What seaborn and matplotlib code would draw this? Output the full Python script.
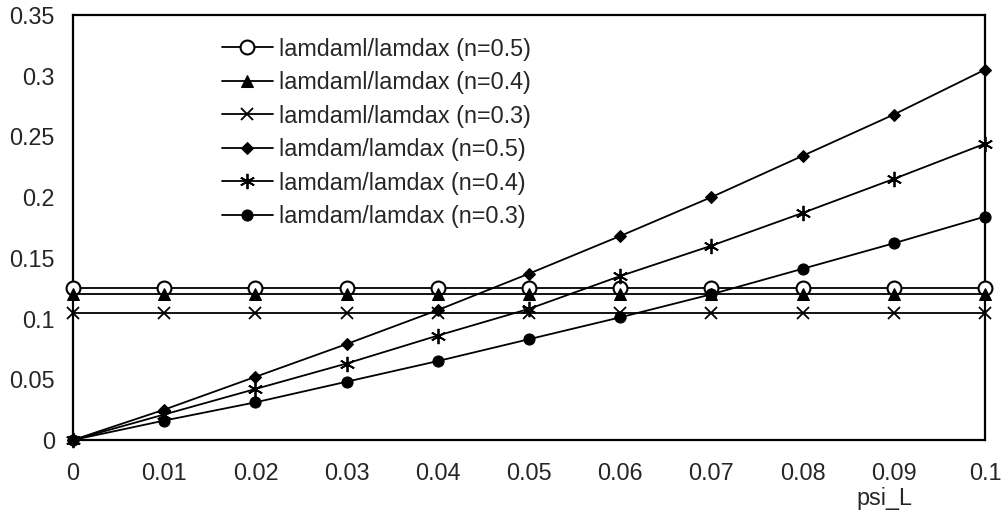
import numpy as np
import pandas as pd
import seaborn as sns
import matplotlib
matplotlib.use("Agg")
import matplotlib.pyplot as plt

sns.set_style("white")
plt.rcParams["font.family"] = ["Liberation Sans", "DejaVu Sans"]

psi_L = [0.0, 0.01, 0.02, 0.03, 0.04, 0.05, 0.06, 0.07, 0.08, 0.09, 0.1]

# lamdaml/lamdax stays constant with psi_L
lamdaml_n05 = [0.125] * 11
lamdaml_n04 = [0.120] * 11
lamdaml_n03 = [0.105] * 11

# lamdam/lamdax grows with psi_L
lamdam_n05 = [0.0, 0.025, 0.052, 0.079, 0.107, 0.137, 0.168, 0.200, 0.234, 0.268, 0.305]
lamdam_n04 = [0.0, 0.021, 0.042, 0.063, 0.086, 0.108, 0.135, 0.160, 0.187, 0.215, 0.244]
lamdam_n03 = [0.0, 0.016, 0.031, 0.048, 0.065, 0.083, 0.101, 0.120, 0.141, 0.162, 0.184]

labels = [
    "lamdaml/lamdax (n=0.5)",
    "lamdaml/lamdax (n=0.4)",
    "lamdaml/lamdax (n=0.3)",
    "lamdam/lamdax (n=0.5)",
    "lamdam/lamdax (n=0.4)",
    "lamdam/lamdax (n=0.3)",
]
series = [lamdaml_n05, lamdaml_n04, lamdaml_n03, lamdam_n05, lamdam_n04, lamdam_n03]

styles = [
    dict(marker="o", markersize=10, markerfacecolor="white", markeredgecolor="black", markeredgewidth=1.5),
    dict(marker="^", markersize=8, markerfacecolor="black", markeredgecolor="black"),
    dict(marker="x", markersize=9, markeredgecolor="black", markeredgewidth=1.3),
    dict(marker="D", markersize=6.5, markerfacecolor="black", markeredgecolor="black"),
    dict(marker=(6, 2, 0), markersize=11, markeredgecolor="black", markeredgewidth=1.3),
    dict(marker="o", markersize=8, markerfacecolor="black", markeredgecolor="black"),
]

df = pd.DataFrame({
    "psi_L": np.tile(psi_L, len(series)),
    "value": np.concatenate(series),
    "series": np.repeat(labels, len(psi_L)),
})

fig = plt.figure(figsize=(10.03, 5.16), dpi=100)
ax = fig.add_axes([73 / 1003, 1 - 440 / 516, 912 / 1003, 425 / 516])

for lab, st in zip(labels, styles):
    sub = df[df["series"] == lab]
    sns.lineplot(data=sub, x="psi_L", y="value", ax=ax, color="black",
                 linewidth=1.3, label=lab, clip_on=False, zorder=3, **st)

ax.set_xlim(0, 0.1)
ax.set_ylim(0, 0.35)
ax.set_xticks(psi_L)
ax.set_xticklabels(["0", "0.01", "0.02", "0.03", "0.04", "0.05", "0.06",
                    "0.07", "0.08", "0.09", "0.1"])
yt = [0, 0.05, 0.1, 0.15, 0.2, 0.25, 0.3, 0.35]
ax.set_yticks(yt)
ax.set_yticklabels(["0", "0.05", "0.1", "0.15", "0.2", "0.25", "0.3", "0.35"])

fs = 16.8
ax.tick_params(axis="x", direction="in", length=5, width=1, color="#555555",
               labelsize=fs, pad=16)
ax.tick_params(axis="y", direction="in", length=5, width=1, color="#555555",
               labelsize=fs, pad=13)

for sp in ax.spines.values():
    sp.set_visible(True)
    sp.set_color("black")
    sp.set_linewidth(1.6)

ax.set_ylabel("")
ax.set_xlabel("psi_L", fontsize=fs)
ax.xaxis.set_label_coords(0.89, -0.11)

leg = ax.legend(loc="upper left", bbox_to_anchor=(0.163, 0.947), frameon=False,
                fontsize=fs, handlelength=2.2, handletextpad=0.26,
                labelspacing=0.45, borderaxespad=0, borderpad=0)

fig.savefig("out.png", dpi=100)
